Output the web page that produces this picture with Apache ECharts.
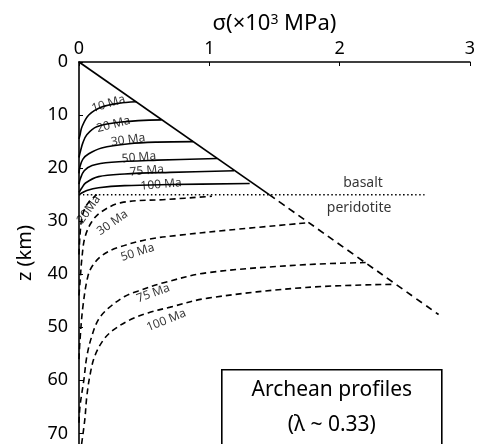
<!DOCTYPE html>
<html><head><meta charset="utf-8">
<script src="https://cdn.jsdelivr.net/npm/echarts@6/dist/echarts.min.js"></script>
<style>html,body{margin:0;padding:0;background:#fff}#c{width:478px;height:444px}</style>
</head><body><div id="c"></div>
<script>
// ---- data (sigma ×10^3 MPa, depth km) ----
var xTicks = [0, 1, 2, 3];
var yTicks = [0, 10, 20, 30, 40, 50, 60, 70];
var diagonalSolid = [[0, 0], [1.46, 25]];
var diagonalDashed = [[1.46, 25], [2.76, 47.6]];
var boundary = [[0, 25], [2.66, 25]];
var basalt10 = [[0, 14.5], [0.008, 13.7], [0.023, 12.2], [0.075, 10.0], [0.174, 8.5], [0.3, 7.8], [0.44, 7.5]];
var basalt20 = [[0, 18], [0.008, 17.1], [0.03, 15.2], [0.06, 13.7], [0.136, 12.2], [0.325, 11.3], [0.634, 10.9]];
var basalt30 = [[0, 21], [0.008, 19.7], [0.03, 18.3], [0.075, 17.3], [0.174, 16.2], [0.385, 15.4], [0.6, 15.1], [0.875, 15.0]];
var basalt50 = [[0, 23], [0.01, 22], [0.04, 20.5], [0.1, 19.5], [0.25, 18.9], [0.6, 18.5], [1.06, 18.2]];
var basalt75 = [[0, 24.6], [0.02, 23.8], [0.05, 22.8], [0.15, 21.6], [0.35, 21.1], [0.7, 20.8], [1.19, 20.5]];
var basalt100 = [[0, 25], [0.02, 24.7], [0.06, 24.2], [0.15, 23.7], [0.35, 23.3], [0.7, 23.1], [1.31, 22.9]];
var perid20 = [[0, 36.3], [0.008, 32.5], [0.023, 29.3], [0.06, 26.9], [0.136, 25]];
var perid30 = [[0, 44], [0.008, 41.4], [0.023, 36.8], [0.045, 33.1], [0.098, 30.1], [0.174, 28.2], [0.325, 26.5], [0.68, 25.9], [1.02, 25.3]];
var perid50 = [[0, 56], [0.008, 52.3], [0.03, 46.1], [0.068, 40.4], [0.106, 38.3], [0.181, 36.4], [0.294, 35.0], [0.536, 33.4], [0.75, 32.7], [1.14, 31.7], [1.76, 30.3]];
var perid75 = [[0, 68], [0.008, 64.8], [0.038, 59.8], [0.06, 55.5], [0.098, 51.7], [0.15, 48.5], [0.226, 46.4], [0.35, 44.2], [0.45, 43.2], [0.65, 41.6], [0.99, 39.7], [1.74, 38.2], [2.20, 37.8]];
var perid100 = [[0.02, 72], [0.045, 67.3], [0.06, 63], [0.083, 59.2], [0.12, 55.5], [0.19, 52.3], [0.27, 50.4], [0.4, 48.5], [0.53, 47.3], [0.70, 46.2], [0.99, 44.5], [1.74, 42.5], [2.41, 41.9]];
var curveLabelText = ['10 Ma', '20 Ma', '30 Ma', '50 Ma', '75 Ma', '100 Ma', '20Ma', '30 Ma', '50 Ma', '75 Ma', '100 Ma'];
var curveLabelAt = [[0.226, 7.9], [0.264, 11.8], [0.377, 14.7], [0.46, 18.0], [0.52, 20.5], [0.63, 23.1], [0.075, 27.8], [0.257, 30.3], [0.45, 35.9], [0.57, 43.6], [0.67, 48.7]];
var curveLabelRot = [17, 15, 8, 5, 5, 5, 55, 35, 18, 20, 22];
var layerNames = ['basalt', 'peridotite'];
var layerAt = [[2.18, 22.9], [2.15, 27.6]];

var FONT = 'Noto Sans';
function line(data, type, width) {
  return { type: 'line', data: data, smooth: 0.35, symbol: 'none', silent: true,
    lineStyle: { color: '#000', width: width || 1.6, type: type } };
}
var series = [
  line(diagonalSolid, 'solid', 1.7),
  line(diagonalDashed, [7, 5], 1.7),
  line(boundary, [1.5, 2.5], 1.5),
  line(basalt10, 'solid'), line(basalt20, 'solid'), line(basalt30, 'solid'),
  line(basalt50, 'solid'), line(basalt75, 'solid'), line(basalt100, 'solid'),
  line(perid20, [6, 4]), line(perid30, [6, 4]), line(perid50, [6, 4]),
  line(perid75, [6, 4]), line(perid100, [6, 4])
];
series.push({
  type: 'scatter', symbolSize: 0, silent: true,
  data: curveLabelText.map(function (t, i) {
    return { value: curveLabelAt[i], label: { show: true, formatter: t, rotate: curveLabelRot[i],
      position: 'inside', fontSize: 12, fontFamily: FONT, color: '#000' } };
  })
});
series.push({
  type: 'scatter', symbolSize: 0, silent: true,
  data: layerNames.map(function (t, i) {
    return { value: layerAt[i], label: { show: true, formatter: t, position: 'inside',
      fontSize: 14, fontFamily: FONT, color: '#000' } };
  })
});

var chart = echarts.init(document.getElementById('c'));
chart.setOption({
  animation: false,
  backgroundColor: '#fff',
  grid: { left: 79, right: 2, top: 62, bottom: 0 },
  xAxis: {
    type: 'value', position: 'top', min: xTicks[0], max: xTicks[xTicks.length - 1], interval: 1,
    name: '{a|σ(×10}{s|3}{a| MPa)}', nameLocation: 'middle', nameGap: 26,
    nameTextStyle: { rich: { a: { fontSize: 22, fontFamily: FONT, color: '#000' },
      s: { fontSize: 14, fontFamily: FONT, color: '#000', verticalAlign: 'top', padding: [0, 0, 8, 0] } } },
    axisLine: { lineStyle: { color: '#000', width: 1.6 } },
    axisTick: { inside: true, length: 4, lineStyle: { color: '#000' } },
    axisLabel: { fontSize: 18, fontFamily: FONT, color: '#000', margin: 4 },
    splitLine: { show: false }
  },
  yAxis: {
    type: 'value', inverse: true, min: 0, max: 72, interval: 10,
    name: 'z (km)', nameLocation: 'middle', nameGap: 44, nameRotate: 90,
    nameTextStyle: { fontSize: 20, fontFamily: FONT, color: '#000' },
    axisLine: { lineStyle: { color: '#000', width: 1.6 } },
    axisTick: { inside: true, length: 4, lineStyle: { color: '#000' } },
    axisLabel: { fontSize: 18, fontFamily: FONT, color: '#000', margin: 11, showMaxLabel: false },
    splitLine: { show: false }
  },
  graphic: [{
    type: 'group', left: 221, top: 369,
    children: [
      { type: 'rect', shape: { x: 0, y: 0, width: 220, height: 80 }, style: { fill: '#fff', stroke: '#000', lineWidth: 1.6 } },
      { type: 'text', x: 110, y: 20, style: { text: 'Archean profiles', fontSize: 21, fontFamily: FONT, fill: '#000', align: 'center', verticalAlign: 'middle' } },
      { type: 'text', x: 110, y: 55, style: { text: '(λ ~ 0.33)', fontSize: 21, fontFamily: FONT, fill: '#000', align: 'center', verticalAlign: 'middle' } }
    ]
  }],
  series: series
});
</script></body></html>
